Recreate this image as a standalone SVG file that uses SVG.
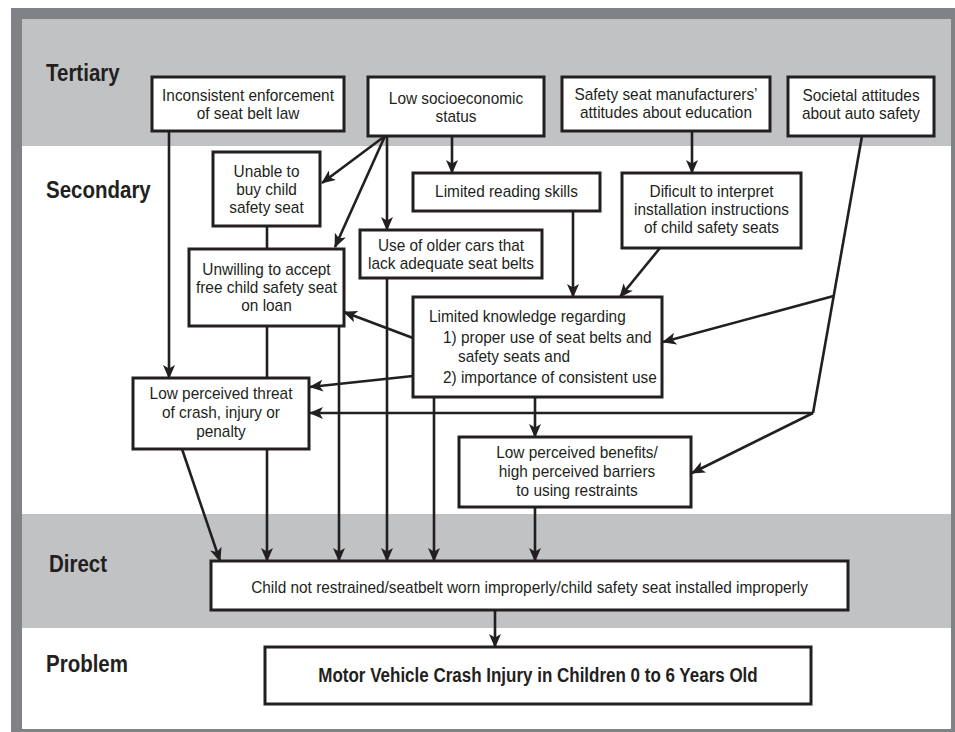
<svg xmlns="http://www.w3.org/2000/svg" width="955" height="732" viewBox="0 0 955 732">
<defs>
<style>
.box{fill:#fff;stroke:#231f20;stroke-width:3}
.t{font-family:"Liberation Sans",Arial,sans-serif;font-size:15.4px;fill:#231f20;text-anchor:middle}
.l{text-anchor:start}
.lab{font-family:"Liberation Sans",Arial,sans-serif;font-size:20.5px;font-weight:bold;fill:#231f20}
.b{font-weight:bold;font-size:17px}
.c{fill:none;stroke:#231f20;stroke-width:2.6}
.a{marker-end:url(#ah)}
</style>
<marker id="ah" viewBox="0 0 14 12" refX="13" refY="6" markerWidth="14" markerHeight="12" markerUnits="userSpaceOnUse" orient="auto">
<path d="M0,0 L14,6 L0,12 L3.5,6 z" fill="#231f20"/>
</marker>
</defs>
<g id="background">
<rect x="11" y="8" width="944" height="724" fill="#808285"/>
<rect x="22" y="19" width="929" height="710" fill="#fff"/>
<rect x="22" y="19" width="929" height="127" fill="#c1c2c4"/>
<rect x="22" y="514" width="929" height="114" fill="#c1c2c4"/>
<text class="lab" transform="translate(46,81) scale(1,1.15)">Tertiary</text>
<text class="lab" transform="translate(46,198) scale(1,1.15)">Secondary</text>
<text class="lab" transform="translate(49,572) scale(1,1.15)">Direct</text>
<text class="lab" transform="translate(46,672) scale(1,1.15)">Problem</text>
</g>
<g id="connectors">
<line class="c a" x1="169" y1="131" x2="169" y2="378"/>
<line class="c a" x1="385" y1="136" x2="322" y2="183"/>
<line class="c a" x1="385" y1="136" x2="335" y2="247"/>
<line class="c a" x1="339" y1="326" x2="339" y2="561"/>
<line class="c a" x1="387" y1="136" x2="387" y2="230"/>
<line class="c a" x1="452" y1="136" x2="452" y2="173"/>
<line class="c a" x1="573" y1="211" x2="573" y2="297"/>
<line class="c a" x1="692" y1="131" x2="692" y2="173"/>
<line class="c a" x1="660" y1="248" x2="620" y2="297"/>
<polyline class="c" points="862,136 813,413"/>
<line class="c a" x1="833.6" y1="296" x2="663" y2="342"/>
<line class="c a" x1="813" y1="413" x2="310" y2="413"/>
<line class="c a" x1="813" y1="413" x2="692" y2="473"/>
<line class="c a" x1="413" y1="338" x2="344" y2="312"/>
<line class="c a" x1="413" y1="376" x2="310" y2="387"/>
<line class="c a" x1="535" y1="397" x2="535" y2="437"/>
<line class="c a" x1="434" y1="397" x2="434" y2="561"/>
<line class="c a" x1="387" y1="278" x2="387" y2="561"/>
<line class="c a" x1="267" y1="226" x2="267" y2="561"/>
<line class="c a" x1="182" y1="449" x2="220" y2="561"/>
<line class="c a" x1="535" y1="507" x2="535" y2="561"/>
<line class="c a" x1="495" y1="610" x2="495" y2="647"/>
</g>
<g id="n-inconsistent">
<rect class="box" x="152" y="77" width="192" height="54"/>
<text class="t" transform="translate(248,101) scale(1,1.1)">Inconsistent enforcement</text>
<text class="t" transform="translate(248,119) scale(1,1.1)">of seat belt law</text>
</g>
<g id="n-lowses">
<rect class="box" x="368" y="77" width="176" height="59"/>
<text class="t" transform="translate(456,104) scale(1,1.1)">Low socioeconomic</text>
<text class="t" transform="translate(456,122) scale(1,1.1)">status</text>
</g>
<g id="n-manufacturers">
<rect class="box" x="562" y="77" width="208" height="54"/>
<text class="t" transform="translate(666,100) scale(1,1.1)">Safety seat manufacturers’</text>
<text class="t" transform="translate(666,118) scale(1,1.1)">attitudes about education</text>
</g>
<g id="n-societal">
<rect class="box" x="788" y="77" width="146" height="59"/>
<text class="t" transform="translate(861,101) scale(1,1.1)">Societal attitudes</text>
<text class="t" transform="translate(861,119) scale(1,1.1)">about auto safety</text>
</g>
<g id="n-unable">
<rect class="box" x="213" y="152" width="107" height="74"/>
<text class="t" transform="translate(266.5,177) scale(1,1.1)">Unable to</text>
<text class="t" transform="translate(266.5,195) scale(1,1.1)">buy child</text>
<text class="t" transform="translate(266.5,213) scale(1,1.1)">safety seat</text>
</g>
<g id="n-reading">
<rect class="box" x="413" y="173" width="187" height="38"/>
<text class="t" transform="translate(506.5,197) scale(1,1.1)">Limited reading skills</text>
</g>
<g id="n-dificult">
<rect class="box" x="622" y="173" width="179" height="75"/>
<text class="t" transform="translate(711.5,197) scale(1,1.1)">Dificult to interpret</text>
<text class="t" transform="translate(711.5,215) scale(1,1.1)">installation instructions</text>
<text class="t" transform="translate(711.5,233) scale(1,1.1)">of child safety seats</text>
</g>
<g id="n-oldercars">
<rect class="box" x="360" y="230" width="182" height="48"/>
<text class="t" transform="translate(451,251) scale(1,1.1)">Use of older cars that</text>
<text class="t" transform="translate(451,269) scale(1,1.1)">lack adequate seat belts</text>
</g>
<g id="n-unwilling">
<rect class="box" x="189" y="249" width="155" height="77"/>
<text class="t" transform="translate(266.5,275) scale(1,1.1)">Unwilling to accept</text>
<text class="t" transform="translate(266.5,293) scale(1,1.1)">free child safety seat</text>
<text class="t" transform="translate(266.5,311) scale(1,1.1)">on loan</text>
</g>
<g id="n-knowledge">
<rect class="box" x="413" y="297" width="249" height="100"/>
<text class="t l" transform="translate(429,322) scale(1,1.1)">Limited knowledge regarding</text>
<text class="t l" transform="translate(443,343) scale(1,1.1)">1) proper use of seat belts and</text>
<text class="t l" transform="translate(458,362) scale(1,1.1)">safety seats and</text>
<text class="t l" transform="translate(443,383) scale(1,1.1)">2) importance of consistent use</text>
</g>
<g id="n-threat">
<rect class="box" x="133" y="378" width="176" height="71"/>
<text class="t" transform="translate(221,399) scale(1,1.1)">Low perceived threat</text>
<text class="t" transform="translate(221,418) scale(1,1.1)">of crash, injury or</text>
<text class="t" transform="translate(221,437) scale(1,1.1)">penalty</text>
</g>
<g id="n-benefits">
<rect class="box" x="459" y="437" width="232" height="70"/>
<text class="t" transform="translate(577,458) scale(1,1.1)">Low perceived benefits/</text>
<text class="t" transform="translate(577,477) scale(1,1.1)">high perceived barriers</text>
<text class="t" transform="translate(577,496) scale(1,1.1)">to using restraints</text>
</g>
<g id="n-direct">
<rect class="box" x="211" y="561" width="637" height="49"/>
<text class="t" transform="translate(529.5,593) scale(1,1.1)">Child not restrained/seatbelt worn improperly/child safety seat installed improperly</text>
</g>
<g id="n-problem">
<rect class="box" x="265" y="647" width="546" height="57"/>
<text class="t b" transform="translate(538,682) scale(1,1.15)">Motor Vehicle Crash Injury in Children 0 to 6 Years Old</text>
</g>
</svg>
